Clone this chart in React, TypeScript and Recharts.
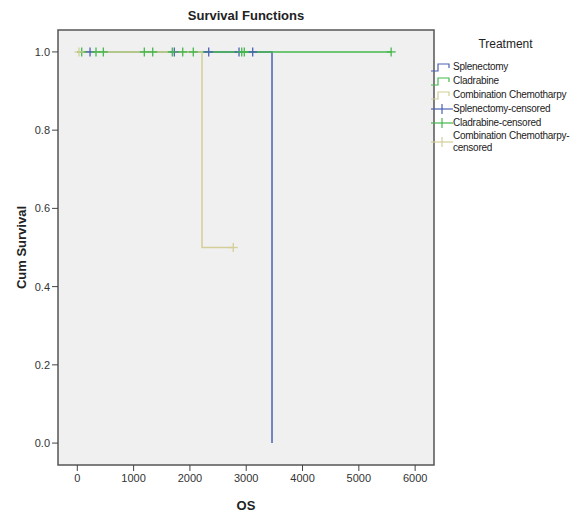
import {
  ComposedChart,
  Line,
  Scatter,
  XAxis,
  YAxis,
  CartesianGrid,
  ReferenceArea,
} from "recharts";

const FONT = "Arial, 'Liberation Sans', sans-serif";

const BLUE = "#4A62B4";
const GREEN = "#44B84C";
const BEIGE = "#D4CF98";

// survival steps: event times and cum survival after each step
const splenectomyTimes = [0, 3458];
const splenectomySurv = [1, 0];
const splenectomyEnd = 3458;

const cladrabineTimes = [0];
const cladrabineSurv = [1];
const cladrabineEnd = 5574;

const comboTimes = [0, 2215];
const comboSurv = [1, 0.5];
const comboEnd = 2770;

// censored observations
const splenectomyCensTimes = [226, 1723, 2334, 2872, 3115];
const splenectomyCensSurv = [1, 1, 1, 1, 1];
const cladrabineCensTimes = [78, 332, 462, 1190, 1339, 1687, 1872, 2060, 2920, 2966, 5574];
const cladrabineCensSurv = [1, 1, 1, 1, 1, 1, 1, 1, 1, 1, 1];
const comboCensTimes = [30, 2770];
const comboCensSurv = [1, 0.5];

const xTicks = [0, 1000, 2000, 3000, 4000, 5000, 6000];
const yTicks = [0, 0.2, 0.4, 0.6, 0.8, 1.0];

const legendLabels = [
  "Splenectomy",
  "Cladrabine",
  "Combination Chemotharpy",
  "Splenectomy-censored",
  "Cladrabine-censored",
  "Combination Chemotharpy-censored",
];
const legendColors = [BLUE, GREEN, BEIGE, BLUE, GREEN, BEIGE];

const X_DOMAIN: [number, number] = [-343, 6335];
const Y_DOMAIN: [number, number] = [-0.056, 1.056];

function steps(times: number[], surv: number[], end: number) {
  const pts: { t: number; s: number }[] = [];
  times.forEach((t, i) => {
    if (i > 0) pts.push({ t, s: surv[i - 1] });
    pts.push({ t, s: surv[i] });
  });
  const last = times[times.length - 1];
  if (end > last) pts.push({ t: end, s: surv[surv.length - 1] });
  return pts;
}

function points(times: number[], surv: number[]) {
  return times.map((t, i) => ({ t, s: surv[i] }));
}

const censorShape = (color: string) => (props: any) => {
  const { cx, cy } = props;
  return (
    <g stroke={color} strokeWidth={1.3}>
      <line x1={cx - 4.5} y1={cy} x2={cx + 4.5} y2={cy} />
      <line x1={cx} y1={cy - 4.5} x2={cx} y2={cy + 4.5} />
    </g>
  );
};

function LegendIcon({ color, censored }: { color: string; censored: boolean }) {
  return (
    <svg width={22} height={12} style={{ display: "block" }}>
      {censored ? (
        <g stroke={color} strokeWidth={1.2}>
          <line x1={0} y1={6} x2={22} y2={6} />
          <line x1={11} y1={1} x2={11} y2={11} />
        </g>
      ) : (
        <polyline
          points="0,10 7,10 7,3 18,3 18,7"
          fill="none"
          stroke={color}
          strokeWidth={1.2}
        />
      )}
    </svg>
  );
}

export default function App() {
  return (
    <div
      style={{
        position: "absolute",
        left: 0,
        top: 0,
        width: 574,
        height: 512,
        background: "#fff",
        fontFamily: FONT,
      }}
    >
      <div
        style={{
          position: "absolute",
          left: 58,
          width: 376,
          top: 8,
          textAlign: "center",
          fontWeight: "bold",
          fontSize: 13,
          color: "#222",
        }}
      >
        Survival Functions
      </div>
      <ComposedChart
        width={574}
        height={512}
        margin={{ top: 30, right: 140, bottom: 0, left: 0 }}
        style={{ position: "absolute", left: 0, top: 0 }}
      >
        <CartesianGrid fill="#f0f0f0" stroke="none" />
        <XAxis
          type="number"
          dataKey="t"
          domain={X_DOMAIN}
          ticks={xTicks}
          allowDataOverflow
          height={47}
          axisLine={false}
          tickSize={6}
          tickLine={{ stroke: "#444" }}
          tickMargin={3}
          tick={{ fontSize: 11, fill: "#333", fontFamily: FONT }}
          label={{
            value: "OS",
            position: "insideBottom",
            offset: 2,
            style: { fontSize: 13, fontWeight: "bold", fill: "#222", fontFamily: FONT },
          }}
        />
        <YAxis
          type="number"
          dataKey="s"
          domain={Y_DOMAIN}
          ticks={yTicks}
          allowDataOverflow
          width={58}
          axisLine={false}
          tickSize={6}
          tickLine={{ stroke: "#444" }}
          tickMargin={2}
          tickFormatter={(v: number) => v.toFixed(1)}
          tick={{ fontSize: 11, fill: "#333", fontFamily: FONT }}
          label={{
            value: "Cum Survival",
            angle: -90,
            position: "insideLeft",
            offset: 21,
            style: {
              fontSize: 13,
              fontWeight: "bold",
              fill: "#222",
              fontFamily: FONT,
              textAnchor: "middle",
            },
          }}
        />
        <ReferenceArea
          x1={X_DOMAIN[0]}
          x2={X_DOMAIN[1]}
          y1={Y_DOMAIN[0]}
          y2={Y_DOMAIN[1]}
          fill="none"
          stroke="#555"
          strokeWidth={1.5}
          fillOpacity={0}
        />
        <Line
          data={steps(splenectomyTimes, splenectomySurv, splenectomyEnd)}
          dataKey="s"
          type="linear"
          stroke={BLUE}
          strokeWidth={1.5}
          dot={false}
          isAnimationActive={false}
        />
        <Line
          data={steps(cladrabineTimes, cladrabineSurv, cladrabineEnd)}
          dataKey="s"
          type="linear"
          stroke={GREEN}
          strokeWidth={1.5}
          dot={false}
          isAnimationActive={false}
        />
        <Line
          data={steps(comboTimes, comboSurv, comboEnd)}
          dataKey="s"
          type="linear"
          stroke={BEIGE}
          strokeWidth={1.5}
          dot={false}
          isAnimationActive={false}
        />
        <Scatter
          data={points(splenectomyCensTimes, splenectomyCensSurv)}
          dataKey="s"
          shape={censorShape(BLUE)}
          isAnimationActive={false}
        />
        <Scatter
          data={points(cladrabineCensTimes, cladrabineCensSurv)}
          dataKey="s"
          shape={censorShape(GREEN)}
          isAnimationActive={false}
        />
        <Scatter
          data={points(comboCensTimes, comboCensSurv)}
          dataKey="s"
          shape={censorShape(BEIGE)}
          isAnimationActive={false}
        />
      </ComposedChart>
      <div
        style={{
          position: "absolute",
          left: 431,
          top: 37,
          width: 143,
          fontSize: 10,
          letterSpacing: -0.25,
          color: "#222",
        }}
      >
        <div
          style={{
            textAlign: "center",
            fontSize: 12,
            letterSpacing: 0,
            marginLeft: 6,
            marginBottom: 9,
          }}
        >
          Treatment
        </div>
        {legendLabels.map((label, i) => (
          <div
            key={label}
            style={{
              display: "flex",
              alignItems: "center",
              height: label.length > 25 ? 24 : 14,
              lineHeight: "12px",
            }}
          >
            <div style={{ flex: "0 0 22px" }}>
              <LegendIcon color={legendColors[i]} censored={i >= 3} />
            </div>
            <div style={{ whiteSpace: "pre" }}>
              {label.length > 25 ? label.replace("-censored", "-\ncensored") : label}
            </div>
          </div>
        ))}
      </div>
    </div>
  );
}
